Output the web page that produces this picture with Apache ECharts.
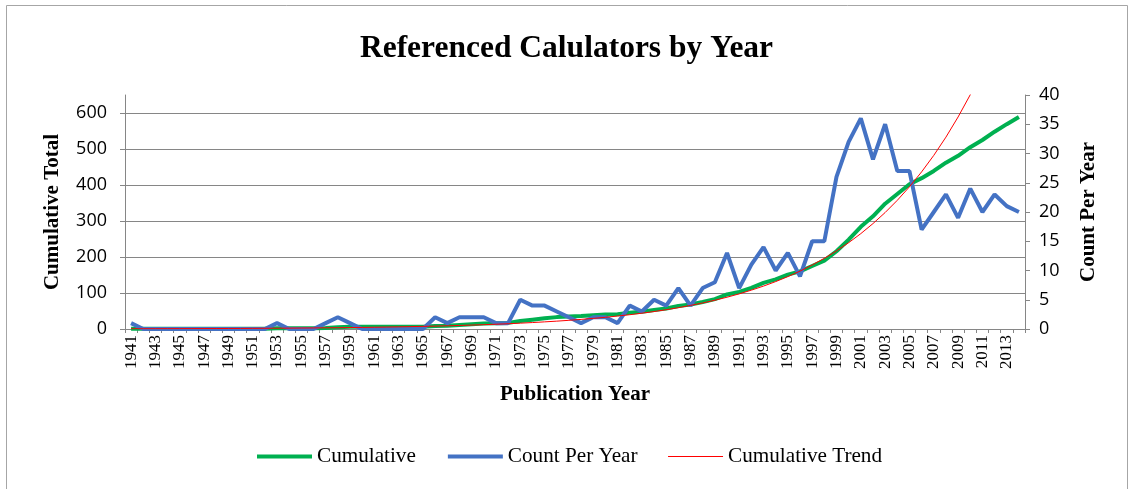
<!DOCTYPE html>
<html>
<head>
<meta charset="utf-8">
<script src="https://cdn.jsdelivr.net/npm/echarts@6/dist/echarts.min.js"></script>
<style>
  html, body { margin: 0; padding: 0; background: #ffffff; }
  #chart { width: 1133px; height: 489px; }
</style>
</head>
<body>
<div id="chart"></div>
<script>
// Publication years on the category axis
const years = [
  '1941','1942','1943','1944','1945','1946','1947','1948','1949','1950',
  '1951','1952','1953','1954','1955','1956','1957','1958','1959','1960',
  '1961','1962','1963','1964','1965','1966','1967','1968','1969','1970',
  '1971','1972','1973','1974','1975','1976','1977','1978','1979','1980',
  '1981','1982','1983','1984','1985','1986','1987','1988','1989','1990',
  '1991','1992','1993','1994','1995','1996','1997','1998','1999','2000',
  '2001','2002','2003','2004','2005','2006','2007','2008','2009','2010',
  '2011','2012','2013','2014'
];

// Number of referenced calculators published each year (right axis)
const countPerYear = [
  1, 0, 0, 0, 0, 0, 0, 0, 0, 0,
  0, 0, 1, 0, 0, 0, 1, 2, 1, 0,
  0, 0, 0, 0, 0, 2, 1, 2, 2, 2,
  1, 1, 5, 4, 4, 3, 2, 1, 2, 2,
  1, 4, 3, 5, 4, 7, 4, 7, 8, 13,
  7, 11, 14, 10, 13, 9, 15, 15, 26, 32,
  36, 29, 35, 27, 27, 17, 20, 23, 19, 24,
  20, 23, 21, 20
];

// Running total (left axis)
const cumulative = [
  1, 1, 1, 1, 1, 1, 1, 1, 1, 1,
  1, 1, 2, 2, 2, 2, 3, 5, 6, 6,
  6, 6, 6, 6, 6, 8, 9, 11, 13, 15,
  16, 17, 22, 26, 30, 33, 35, 36, 38, 40,
  41, 45, 48, 53, 57, 64, 68, 75, 83, 96,
  103, 114, 128, 138, 151, 160, 175, 190, 216, 248,
  284, 313, 348, 375, 402, 419, 439, 462, 481, 505,
  525, 548, 569, 589
];

// Exponential trend of the running total (left axis), runs off the top after 2010
const cumulativeTrend = [
  0.7, 0.7, 0.8, 0.9, 1.0, 1.1, 1.2, 1.3, 1.5, 1.6,
  1.8, 2.0, 2.2, 2.4, 2.7, 3.0, 3.3, 3.6, 4.0, 4.4,
  4.9, 5.4, 6.0, 6.6, 7.3, 8.0, 8.9, 9.8, 10.9, 12.0,
  13.2, 14.6, 16.2, 17.9, 19.8, 21.8, 24.1, 26.7, 29.5, 32.5,
  36.0, 39.7, 43.9, 48.5, 53.6, 59.2, 65.5, 72.3, 79.9, 88.3,
  97.6, 107.9, 119.2, 131.7, 145.5, 160.8, 177.7, 196.4, 217.0, 239.8,
  264.9, 292.8, 323.5, 357.5, 395.0, 436.5, 482.3, 533.0, 589.0, 650.8,
  719.1, null, null, null
];

// Tick values shown on the left axis
const leftTicks = [0, 100, 200, 300, 400, 500, 600];

const SERIF = '"Liberation Serif", "Times New Roman", serif';
const SANS = '"Open Sans", "Liberation Sans", sans-serif';
const GRAY = '#868686';

const chart = echarts.init(document.getElementById('chart'), null, { renderer: 'canvas' });

chart.setOption({
  animation: false,
  backgroundColor: '#ffffff',
  graphic: [{
    type: 'rect',
    silent: true,
    z: -10,
    shape: { x: 6.5, y: 5.5, width: 1121, height: 520 },
    style: { fill: 'none', stroke: '#a6a6a6', lineWidth: 1 }
  }],
  title: {
    text: 'Referenced Calulators by Year',
    left: 'center',
    top: 28,
    textStyle: { fontFamily: SERIF, fontSize: 31.5, fontWeight: 'bold', color: '#000000' }
  },
  legend: {
    data: [
      { name: 'Cumulative', itemStyle: { opacity: 0 }, lineStyle: { width: 4 } },
      { name: 'Count Per Year', itemStyle: { opacity: 0 }, lineStyle: { width: 4 } },
      { name: 'Cumulative Trend', itemStyle: { opacity: 0 }, lineStyle: { width: 1 } }
    ],
    left: 250,
    top: 441,
    itemWidth: 55,
    itemHeight: 14,
    itemGap: 30,
    itemStyle: { opacity: 0 },
    textStyle: { fontFamily: SERIF, fontSize: 21.2, color: '#000000' }
  },
  grid: { left: 125, right: 108, top: 95, bottom: 160 },
  xAxis: {
    type: 'category',
    data: years,
    boundaryGap: true,
    name: 'Publication Year',
    nameLocation: 'middle',
    nameGap: 55,
    nameTextStyle: { fontFamily: SERIF, fontSize: 21, fontWeight: 'bold', color: '#000000' },
    axisLine: { lineStyle: { color: GRAY, width: 1 } },
    axisTick: { show: true, interval: 0, length: 4, lineStyle: { color: GRAY } },
    axisLabel: {
      interval: 1,
      rotate: 90,
      margin: 6,
      fontFamily: SERIF,
      fontSize: 17,
      color: '#000000'
    },
    splitLine: { show: false }
  },
  yAxis: [
    {
      type: 'value',
      position: 'left',
      min: 0,
      max: 650,
      interval: 100,
      name: 'Cumulative Total',
      nameLocation: 'middle',
      nameRotate: 90,
      nameGap: 62,
      nameTextStyle: { fontFamily: SERIF, fontSize: 21, fontWeight: 'bold', color: '#000000' },
      axisLine: { show: true, lineStyle: { color: GRAY, width: 1 } },
      axisTick: { show: true, length: 5, customValues: leftTicks, lineStyle: { color: GRAY } },
      axisLabel: {
        customValues: leftTicks,
        margin: 18,
        fontFamily: SANS,
        fontSize: 18,
        color: '#000000'
      },
      splitLine: { show: true, lineStyle: { color: GRAY, width: 1 } }
    },
    {
      type: 'value',
      position: 'right',
      min: 0,
      max: 40,
      interval: 5,
      name: 'Count Per Year',
      nameLocation: 'middle',
      nameRotate: 90,
      nameGap: 53,
      nameTextStyle: { fontFamily: SERIF, fontSize: 21, fontWeight: 'bold', color: '#000000' },
      axisLine: { show: true, lineStyle: { color: GRAY, width: 1 } },
      axisTick: { show: true, length: 5, lineStyle: { color: GRAY } },
      axisLabel: { margin: 14, fontFamily: SANS, fontSize: 18, color: '#000000' },
      splitLine: { show: false }
    }
  ],
  series: [
    {
      name: 'Cumulative',
      type: 'line',
      yAxisIndex: 0,
      data: cumulative,
      symbol: 'none',
      lineStyle: { color: '#00B050', width: 4 },
      itemStyle: { color: '#00B050' },
      z: 2
    },
    {
      name: 'Count Per Year',
      type: 'line',
      yAxisIndex: 1,
      data: countPerYear,
      symbol: 'none',
      lineStyle: { color: '#4472C4', width: 4 },
      itemStyle: { color: '#4472C4' },
      z: 3
    },
    {
      name: 'Cumulative Trend',
      type: 'line',
      yAxisIndex: 0,
      data: cumulativeTrend,
      symbol: 'none',
      clip: true,
      lineStyle: { color: '#FF0000', width: 1 },
      itemStyle: { color: '#FF0000' },
      z: 4
    }
  ]
});
</script>
</body>
</html>
